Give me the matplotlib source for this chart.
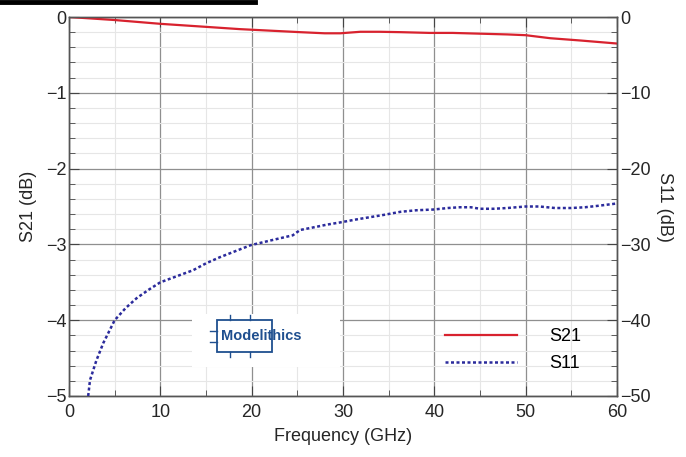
import matplotlib.pyplot as plt
import matplotlib.ticker as mtick
from matplotlib.patches import Rectangle
from matplotlib.lines import Line2D

plt.rcParams['font.family'] = ['Liberation Sans', 'DejaVu Sans']

# S21, left axis (dB)
freq_s21 = [0, 5, 10, 15, 18.7, 22, 25.3, 28, 29.7, 31.9, 34, 36.3, 39.5, 42,
            45, 48, 50, 52.7, 56, 58, 60]
s21 = [0.0, -0.04, -0.09, -0.13, -0.16, -0.18, -0.2, -0.215, -0.215, -0.195, -0.195,
       -0.2, -0.21, -0.21, -0.22, -0.23, -0.24, -0.28, -0.31, -0.33, -0.35]

# S11, right axis (dB)
freq_s11 = [2.1, 2.3, 3.0, 3.76, 5.0, 6.2, 7.4, 8.7, 10, 11.8, 13.6, 15, 16.5, 18.2,
            19.9, 22, 24.5, 25.3, 27, 28.2, 29.7, 31.5, 33, 34.5, 36.3, 38, 39.9,
            41.5, 42.8, 44, 45, 46.5, 48, 50, 51.5, 53.2, 55, 56.5, 58, 60]
s11 = [-50.0, -47.9, -45.3, -43.0, -40.0, -38.4, -37.1, -36.0, -35.0, -34.2, -33.4,
       -32.5, -31.7, -30.9, -30.1, -29.5, -28.8, -28.1, -27.7, -27.4, -27.1, -26.7,
       -26.4, -26.1, -25.7, -25.5, -25.4, -25.2, -25.1, -25.1, -25.3, -25.3, -25.2,
       -25.0, -25.0, -25.2, -25.2, -25.1, -24.9, -24.6]

xticks = [0, 10, 20, 30, 40, 50, 60]
red = '#d8222e'
blue = '#2b2b9c'
txt = '#262626'
logo = '#1f4f8f'

fig = plt.figure(figsize=(6.86, 4.57), dpi=100)
ax = fig.add_axes([0.1006, 0.1335, 0.7988, 0.8293])
ax2 = ax.twinx()

l1, = ax.plot(freq_s21, s21, color=red, lw=1.6, label='S21', zorder=5)
l2, = ax2.plot(freq_s11, s11, color=blue, lw=1.8, linestyle=(0, (1.2, 1.0)),
               label='S11', zorder=5)

ax.set_xlim(0, 60)
ax.set_ylim(-5, 0)
ax2.set_ylim(-50, 0)
ax.set_xticks(xticks)
ax.xaxis.set_minor_locator(mtick.MultipleLocator(5))
ax.yaxis.set_major_locator(mtick.MultipleLocator(1))
ax.yaxis.set_minor_locator(mtick.MultipleLocator(0.2))
ax2.yaxis.set_major_locator(mtick.MultipleLocator(10))
ax2.yaxis.set_minor_locator(mtick.MultipleLocator(2))

ax.grid(True, which='major', color='#8f8f8f', lw=0.9)
ax.grid(True, which='minor', color='#e6e6e6', lw=0.8)
ax.set_axisbelow(True)

for a in (ax, ax2):
    a.tick_params(which='both', direction='in', colors='#444444', labelcolor=txt,
                  labelsize=13, pad=2)
    a.tick_params(which='major', length=7)
    a.tick_params(which='minor', length=4)
    for s in a.spines.values():
        s.set_color('#555555')
        s.set_linewidth(1.0)
ax.tick_params(axis='x', which='both', top=True, pad=6)

ax.set_xlabel('Frequency (GHz)', fontsize=13, color=txt, labelpad=5)
ax.set_ylabel('S21 (dB)', fontsize=13, color=txt, labelpad=6)
ax2.set_ylabel('S11 (dB)', fontsize=13, color=txt, rotation=270, labelpad=16)

ax.legend([l1, l2], ['S21', 'S11'], loc='lower right', bbox_to_anchor=(0.965, 0.02),
          frameon=False, fontsize=13, handlelength=4.0, handletextpad=1.8,
          labelspacing=0.55)

# Modelithics logo (approximation)
ax.add_patch(Rectangle((13.5, -4.62), 16.2, 0.7, facecolor='white', edgecolor='none',
                       zorder=6))
ax.add_patch(Rectangle((16.2, -4.42), 6.0, 0.42, facecolor='none', edgecolor=logo,
                       lw=1.3, zorder=7))
for px in (17.6, 19.8):
    ax.plot([px, px], [-4.0, -3.93], color=logo, lw=1, zorder=7)
    ax.plot([px, px], [-4.42, -4.49], color=logo, lw=1, zorder=7)
for py in (-4.14, -4.29):
    ax.plot([15.4, 16.2], [py, py], color=logo, lw=1, zorder=7)
ax.text(16.6, -4.21, 'Modelithics', fontsize=10.5, fontweight='bold', color=logo,
        va='center', ha='left', zorder=8)

# black bar at top left of the picture
fig.add_artist(Line2D([0, 0.372], [0.995, 0.995], color='black', lw=3.5,
                      transform=fig.transFigure))

fig.savefig('out.png', dpi=100)
